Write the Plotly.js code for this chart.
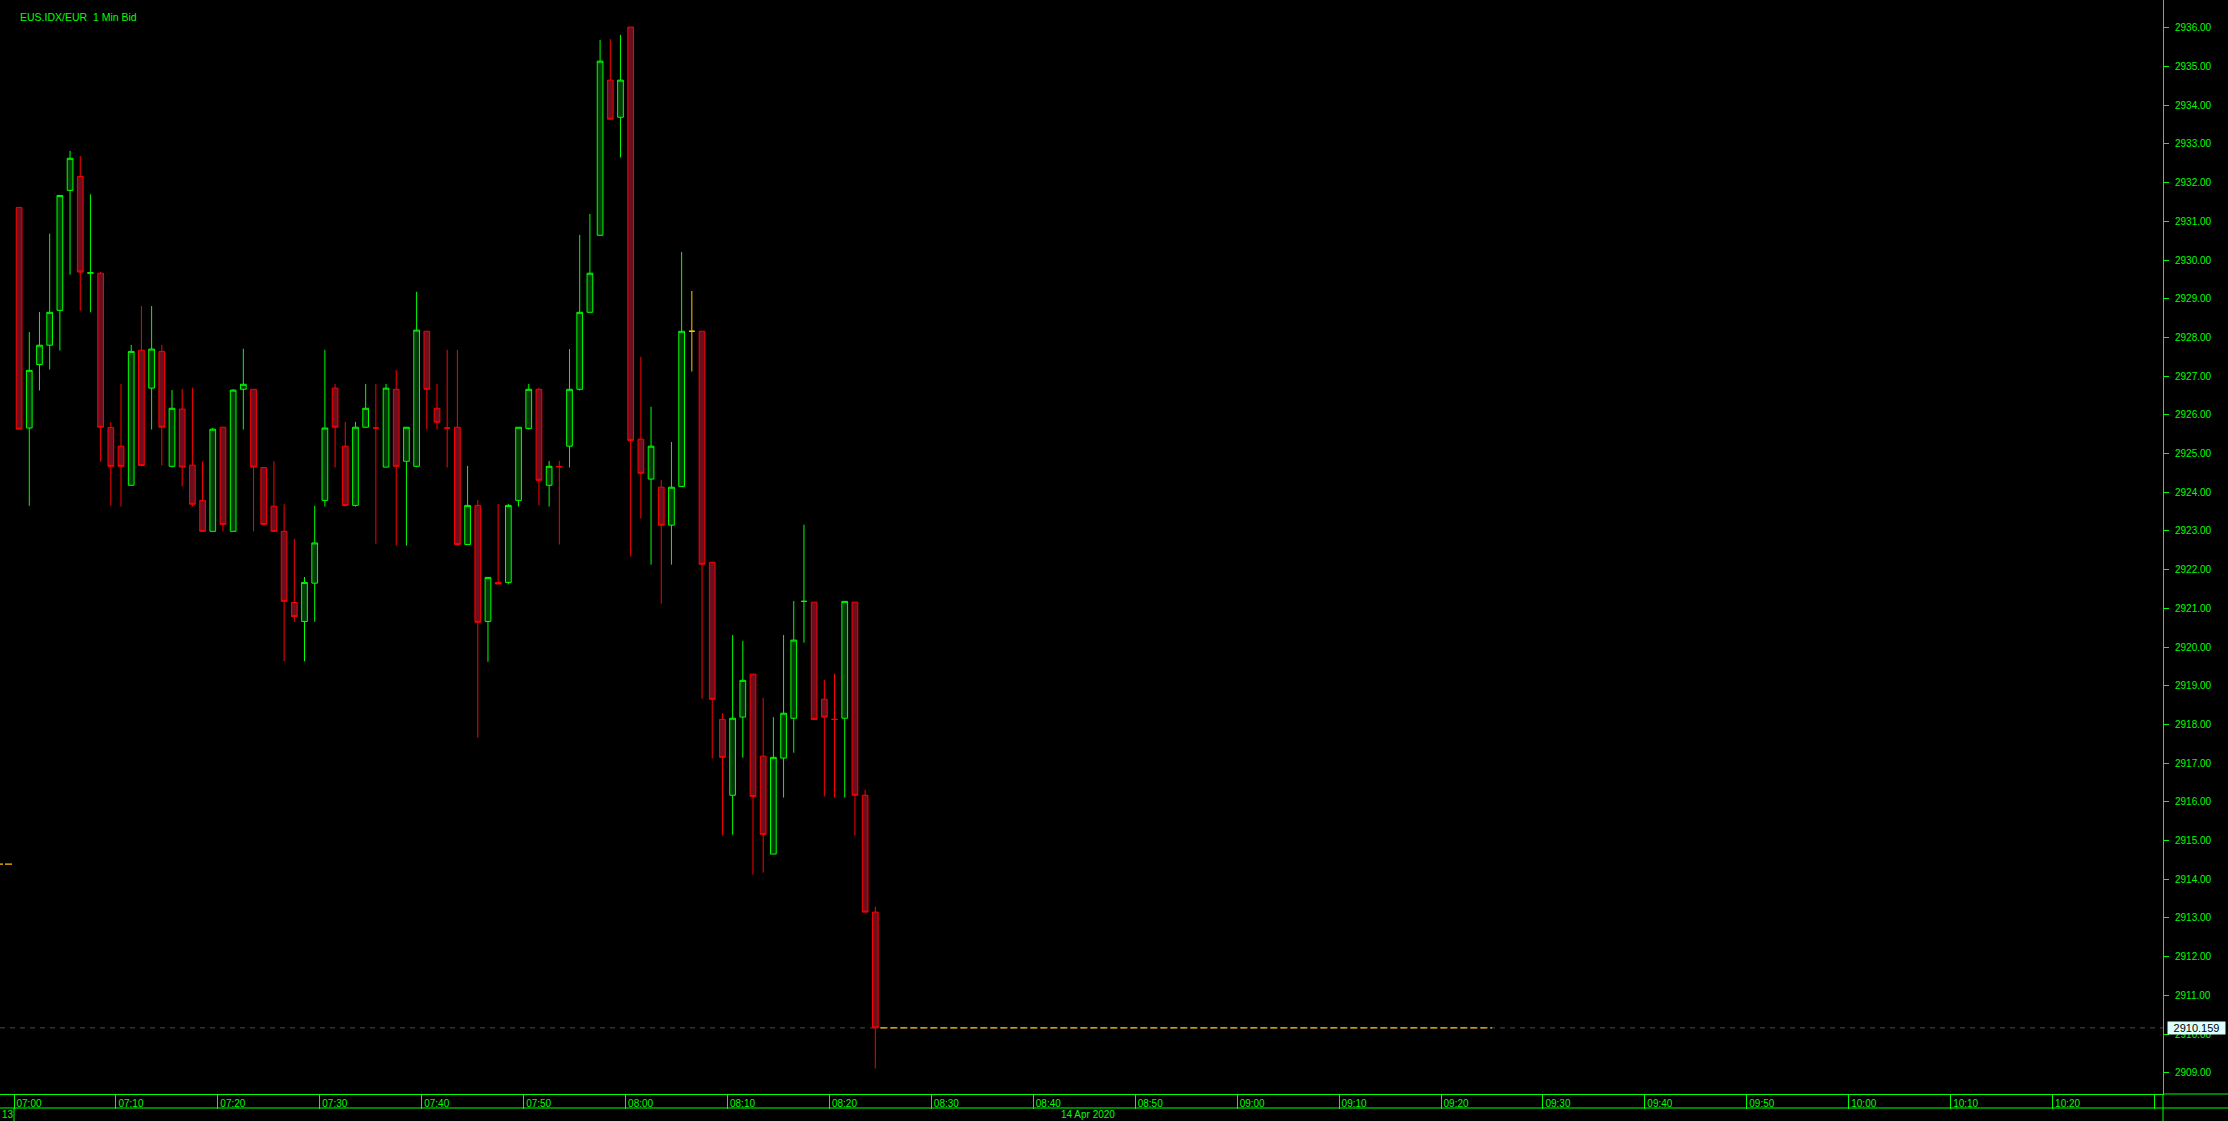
<!DOCTYPE html>
<html>
<head>
<meta charset="utf-8">
<script src="https://cdn.plot.ly/plotly-3.0.1.min.js"></script>
<style>
  html, body { margin: 0; padding: 0; background: #000; }
  #chart { width: 2228px; height: 1121px; }
</style>
</head>
<body>
<div id="chart"></div>
<script>
// ---------- DATA ----------
const chartTitle = 'EUS.IDX/EUR\u00a0 1 Min Bid';
const tradeDay = '2020-04-14';
const prevDayLabel = '13';
const dayLabel = '14 Apr 2020';

const times = [
  '07:00','07:01','07:02','07:03','07:04','07:05','07:06','07:07','07:08','07:09',
  '07:10','07:11','07:12','07:13','07:14','07:15','07:16','07:17','07:18','07:19',
  '07:20','07:21','07:22','07:23','07:24','07:25','07:26','07:27','07:28','07:29',
  '07:30','07:31','07:32','07:33','07:34','07:35','07:36','07:37','07:38','07:39',
  '07:40','07:41','07:42','07:43','07:44','07:45','07:46','07:47','07:48','07:49',
  '07:50','07:51','07:52','07:53','07:54','07:55','07:56','07:57','07:58','07:59',
  '08:00','08:01','08:02','08:03','08:04','08:05','08:06','08:07','08:08','08:09',
  '08:10','08:11','08:12','08:13','08:14','08:15','08:16','08:17','08:18','08:19',
  '08:20','08:21','08:22','08:23','08:24'
];

const openP = [
  2931.36,2925.66,2927.30,2927.80,2928.70,2931.80,2932.16,2929.66,2929.66,2925.67,
  2925.19,2924.18,2927.67,2926.69,2927.64,2924.67,2926.15,2924.70,2923.79,2922.99,
  2925.68,2922.99,2926.66,2926.66,2924.64,2923.64,2922.99,2921.15,2920.66,2921.65,
  2923.79,2926.69,2925.19,2923.66,2925.68,2925.66,2924.65,2926.66,2924.80,2924.67,
  2928.16,2926.17,2925.66,2925.68,2922.65,2923.66,2920.66,2921.67,2921.67,2923.79,
  2925.65,2926.66,2924.18,2924.66,2925.19,2926.66,2928.65,2930.64,2934.65,2933.69,
  2936.02,2925.37,2924.34,2924.13,2923.15,2924.15,2928.16,2928.16,2922.19,2918.13,
  2916.17,2918.19,2919.30,2917.18,2914.65,2917.13,2918.16,2921.18,2921.16,2918.65,
  2918.13,2918.16,2921.16,2916.17,2913.15
];
const highP = [
  2931.36,2928.14,2928.66,2930.68,2931.67,2932.82,2932.69,2931.70,2929.69,2925.81,
  2926.80,2927.81,2928.81,2928.81,2927.81,2926.64,2926.67,2926.70,2924.80,2925.66,
  2925.68,2926.66,2927.71,2926.66,2924.64,2924.80,2923.69,2922.79,2921.81,2923.65,
  2927.68,2926.80,2925.82,2925.82,2926.80,2926.80,2926.80,2927.16,2925.68,2929.18,
  2928.16,2926.80,2927.68,2927.68,2924.68,2923.80,2921.80,2923.70,2923.70,2925.68,
  2926.80,2926.70,2924.81,2924.81,2927.70,2930.65,2931.19,2935.69,2935.71,2935.82,
  2936.02,2927.50,2926.21,2924.32,2925.30,2930.21,2929.20,2928.16,2922.19,2918.29,
  2920.31,2920.16,2919.30,2918.69,2918.19,2920.31,2921.19,2923.16,2921.16,2919.15,
  2919.31,2921.18,2921.16,2916.31,2913.29
];
const lowP = [
  2925.63,2923.65,2926.63,2927.17,2927.66,2929.62,2928.69,2928.65,2924.79,2923.65,
  2923.63,2924.18,2924.67,2925.62,2924.69,2924.64,2924.15,2923.63,2922.99,2922.99,
  2922.99,2922.99,2925.62,2922.99,2923.15,2922.99,2919.63,2920.65,2919.63,2920.65,
  2923.63,2924.64,2923.63,2923.63,2925.68,2922.67,2924.65,2922.62,2922.62,2924.65,
  2925.62,2925.62,2924.64,2922.62,2922.65,2917.66,2919.62,2921.63,2921.62,2923.63,
  2925.62,2923.66,2923.63,2922.65,2924.64,2926.63,2928.65,2930.64,2933.64,2932.65,
  2922.34,2923.32,2922.13,2921.12,2922.13,2924.15,2927.12,2918.66,2917.12,2915.13,
  2915.15,2917.14,2914.12,2914.17,2914.65,2916.11,2917.27,2920.11,2918.13,2916.14,
  2916.11,2916.11,2915.13,2913.15,2909.11
];
const closeP = [
  2925.63,2927.15,2927.80,2928.65,2931.67,2932.63,2929.69,2929.67,2925.68,2924.67,
  2924.67,2927.64,2924.69,2927.70,2925.68,2926.17,2924.65,2923.69,2922.99,2925.63,
  2923.17,2926.64,2926.79,2924.65,2923.17,2922.99,2921.18,2920.79,2921.67,2922.69,
  2925.66,2925.68,2923.66,2925.68,2926.17,2925.66,2926.69,2924.67,2925.68,2928.19,
  2926.66,2925.81,2925.66,2922.65,2923.66,2920.64,2921.80,2921.63,2923.66,2925.68,
  2926.66,2924.31,2924.67,2924.66,2926.66,2928.65,2929.66,2935.14,2933.64,2934.65,
  2925.34,2924.49,2925.19,2923.15,2924.13,2928.16,2928.16,2922.14,2918.65,2917.15,
  2918.16,2919.14,2916.14,2915.16,2917.15,2918.29,2920.18,2921.18,2918.13,2918.19,
  2918.13,2921.18,2916.17,2913.15,2910.159
];

// candles drawn in the neutral (orange) colour
const neutralTimes = ['08:06'];
// level carried over from the previous session (left-edge marker)
const prevSessionLevel = 2914.39;
// projection of the last price (minutes)
const projectionMinutes = 60;

// x-axis tick labels
const xTickTimes = ['07:00','07:10','07:20','07:30','07:40','07:50','08:00','08:10','08:20','08:30',
  '08:40','08:50','09:00','09:10','09:20','09:30','09:40','09:50','10:00','10:10','10:20','10:30'];
const xTickText = ['07:00','07:10','07:20','07:30','07:40','07:50','08:00','08:10','08:20','08:30',
  '08:40','08:50','09:00','09:10','09:20','09:30','09:40','09:50','10:00','10:10','10:20',''];

// ---------- STYLE ----------
const GREEN = '#00ff00';
const RED = '#ff0000';
const GREEN_FILL = '#033a08';
const RED_FILL = '#6d0e1e';
const ORANGE = '#ffc000';
const FONT = 'Liberation Sans, Arial, sans-serif';

const W = 2228, H = 1121;
const M = {l: 0, r: 65, t: 0, b: 27};
const plotW = W - M.l - M.r, plotH = H - M.t - M.b;

function ts(t, sec) { return tradeDay + ' ' + t + ':' + (sec || '00'); }
function addMin(t, m) {
  const [h, mm] = t.split(':').map(Number);
  const tot = h * 60 + mm + m;
  const hh = Math.floor(tot / 60), m2 = tot % 60;
  return String(hh).padStart(2, '0') + ':' + String(m2).padStart(2, '0');
}

const idxMain = [], idxNeutral = [];
times.forEach((t, i) => (neutralTimes.includes(t) ? idxNeutral : idxMain).push(i));
function pick(arr, idx) { return idx.map(i => arr[i]); }
function xs(idx) { return idx.map(i => ts(times[i], '30')); }

const mainTrace = {
  type: 'candlestick',
  x: xs(idxMain),
  open: pick(openP, idxMain), high: pick(highP, idxMain),
  low: pick(lowP, idxMain), close: pick(closeP, idxMain),
  increasing: {line: {color: GREEN, width: 1}, fillcolor: GREEN_FILL},
  decreasing: {line: {color: RED, width: 1}, fillcolor: RED_FILL},
  whiskerwidth: 0,
  hoverinfo: 'skip',
  showlegend: false
};
const neutralTrace = {
  type: 'candlestick',
  x: xs(idxNeutral),
  open: pick(openP, idxNeutral), high: pick(highP, idxNeutral),
  low: pick(lowP, idxNeutral), close: pick(closeP, idxNeutral),
  increasing: {line: {color: ORANGE, width: 1}, fillcolor: ORANGE},
  decreasing: {line: {color: ORANGE, width: 1}, fillcolor: ORANGE},
  whiskerwidth: 0,
  hoverinfo: 'skip',
  showlegend: false
};

// axis range: 07:00 sits 14px from the left edge, 10.193 px per minute
const pxPerMin = 10.193;
const t0 = new Date(ts(times[0]).replace(' ', 'T') + 'Z').getTime();
function fmt(ms) { return new Date(ms).toISOString().replace('T', ' ').replace('Z', ''); }
const xStart = t0 - (14 / pxPerMin) * 60000;
const xEnd = xStart + (plotW / pxPerMin) * 60000;

const lastTime = times[times.length - 1];
const lastPrice = closeP[closeP.length - 1];
const projStart = addMin(lastTime, 1);
const projEnd = addMin(projStart, projectionMinutes);

const rowY1 = -14 / plotH;   // bottom of the time row
const rowY2 = -27 / plotH;   // bottom of the figure
const fullX = W / plotW;

const layout = {
  width: W, height: H,
  margin: M,
  paper_bgcolor: '#000', plot_bgcolor: '#000',
  showlegend: false,
  hovermode: false,
  boxgap: 0.2, boxgroupgap: 0.3,
  font: {family: FONT, color: GREEN, size: 10},
  xaxis: {
    type: 'date',
    range: [fmt(xStart), fmt(xEnd)],
    rangeslider: {visible: false},
    showgrid: false, zeroline: false,
    showline: true, linecolor: GREEN, linewidth: 1,
    tickmode: 'array',
    tickvals: xTickTimes.map(t => ts(t)),
    ticktext: xTickText,
    ticks: 'outside', ticklen: 14, tickwidth: 1, tickcolor: GREEN,
    ticklabelstandoff: -14,
    ticklabelshift: 15,
    tickfont: {family: FONT, size: 10, color: GREEN}
  },
  yaxis: {
    side: 'right',
    range: [2908.45, 2936.72],
    tick0: 2900, dtick: 1,
    tickformat: '.2f',
    showgrid: false, zeroline: false,
    showline: true, linecolor: GREEN, linewidth: 1,
    ticks: 'outside', ticklen: 5, tickwidth: 1, tickcolor: GREEN,
    ticklabelstandoff: 4,
    tickfont: {family: FONT, size: 10, color: GREEN}
  },
  shapes: [
    {type: 'line', layer: 'below', xref: 'paper', yref: 'y', x0: 0, x1: 1, y0: lastPrice, y1: lastPrice,
     line: {color: '#4a4a4a', width: 1, dash: '5px,5px'}},
    {type: 'line', layer: 'below', xref: 'x', yref: 'y', x0: ts(projStart), x1: ts(projEnd), y0: lastPrice, y1: lastPrice,
     line: {color: ORANGE, width: 1.3, dash: '7px,3px'}},
    {type: 'line', xref: 'paper', yref: 'y', x0: 0, x1: 12 / plotW, y0: prevSessionLevel, y1: prevSessionLevel,
     line: {color: ORANGE, width: 1.3, dash: '3px,2px,7px,20px'}},
    {type: 'line', xref: 'paper', yref: 'paper', x0: 1, x1: fullX, y0: 0, y1: 0,
     line: {color: GREEN, width: 1}},
    {type: 'line', xref: 'paper', yref: 'paper', x0: 0, x1: fullX, y0: rowY1, y1: rowY1,
     line: {color: GREEN, width: 1}},
    {type: 'line', xref: 'paper', yref: 'paper', x0: 1, x1: 1, y0: 0, y1: rowY2,
     line: {color: GREEN, width: 1}},
    {type: 'line', xref: 'x', yref: 'paper', x0: ts(times[0]), x1: ts(times[0]), y0: rowY1, y1: rowY2,
     line: {color: GREEN, width: 1}}
  ],
  annotations: [
    {xref: 'paper', yref: 'paper', x: 18 / plotW, y: 1 - 17 / plotH, xanchor: 'left', yanchor: 'middle',
     text: chartTitle, showarrow: false, font: {family: FONT, size: 10.5, color: GREEN}},
    {xref: 'paper', yref: 'paper', x: 0, y: -20.5 / plotH, xanchor: 'left', yanchor: 'middle',
     text: prevDayLabel, showarrow: false, font: {family: FONT, size: 10, color: GREEN}},
    {xref: 'paper', yref: 'paper', x: 1088 / plotW, y: -20.5 / plotH, xanchor: 'center', yanchor: 'middle',
     text: dayLabel, showarrow: false, font: {family: FONT, size: 10, color: GREEN}},
    {xref: 'paper', yref: 'y', x: 1, y: lastPrice, xanchor: 'left', yanchor: 'middle', xshift: 4,
     text: lastPrice.toFixed(3), showarrow: false, bgcolor: '#dcffff', borderpad: 0,
     width: 57, height: 12, align: 'center',
     font: {family: FONT, size: 11, color: '#000'}}
  ]
};

Plotly.newPlot('chart', [mainTrace, neutralTrace], layout, {displayModeBar: false, staticPlot: true});
</script>
</body>
</html>
